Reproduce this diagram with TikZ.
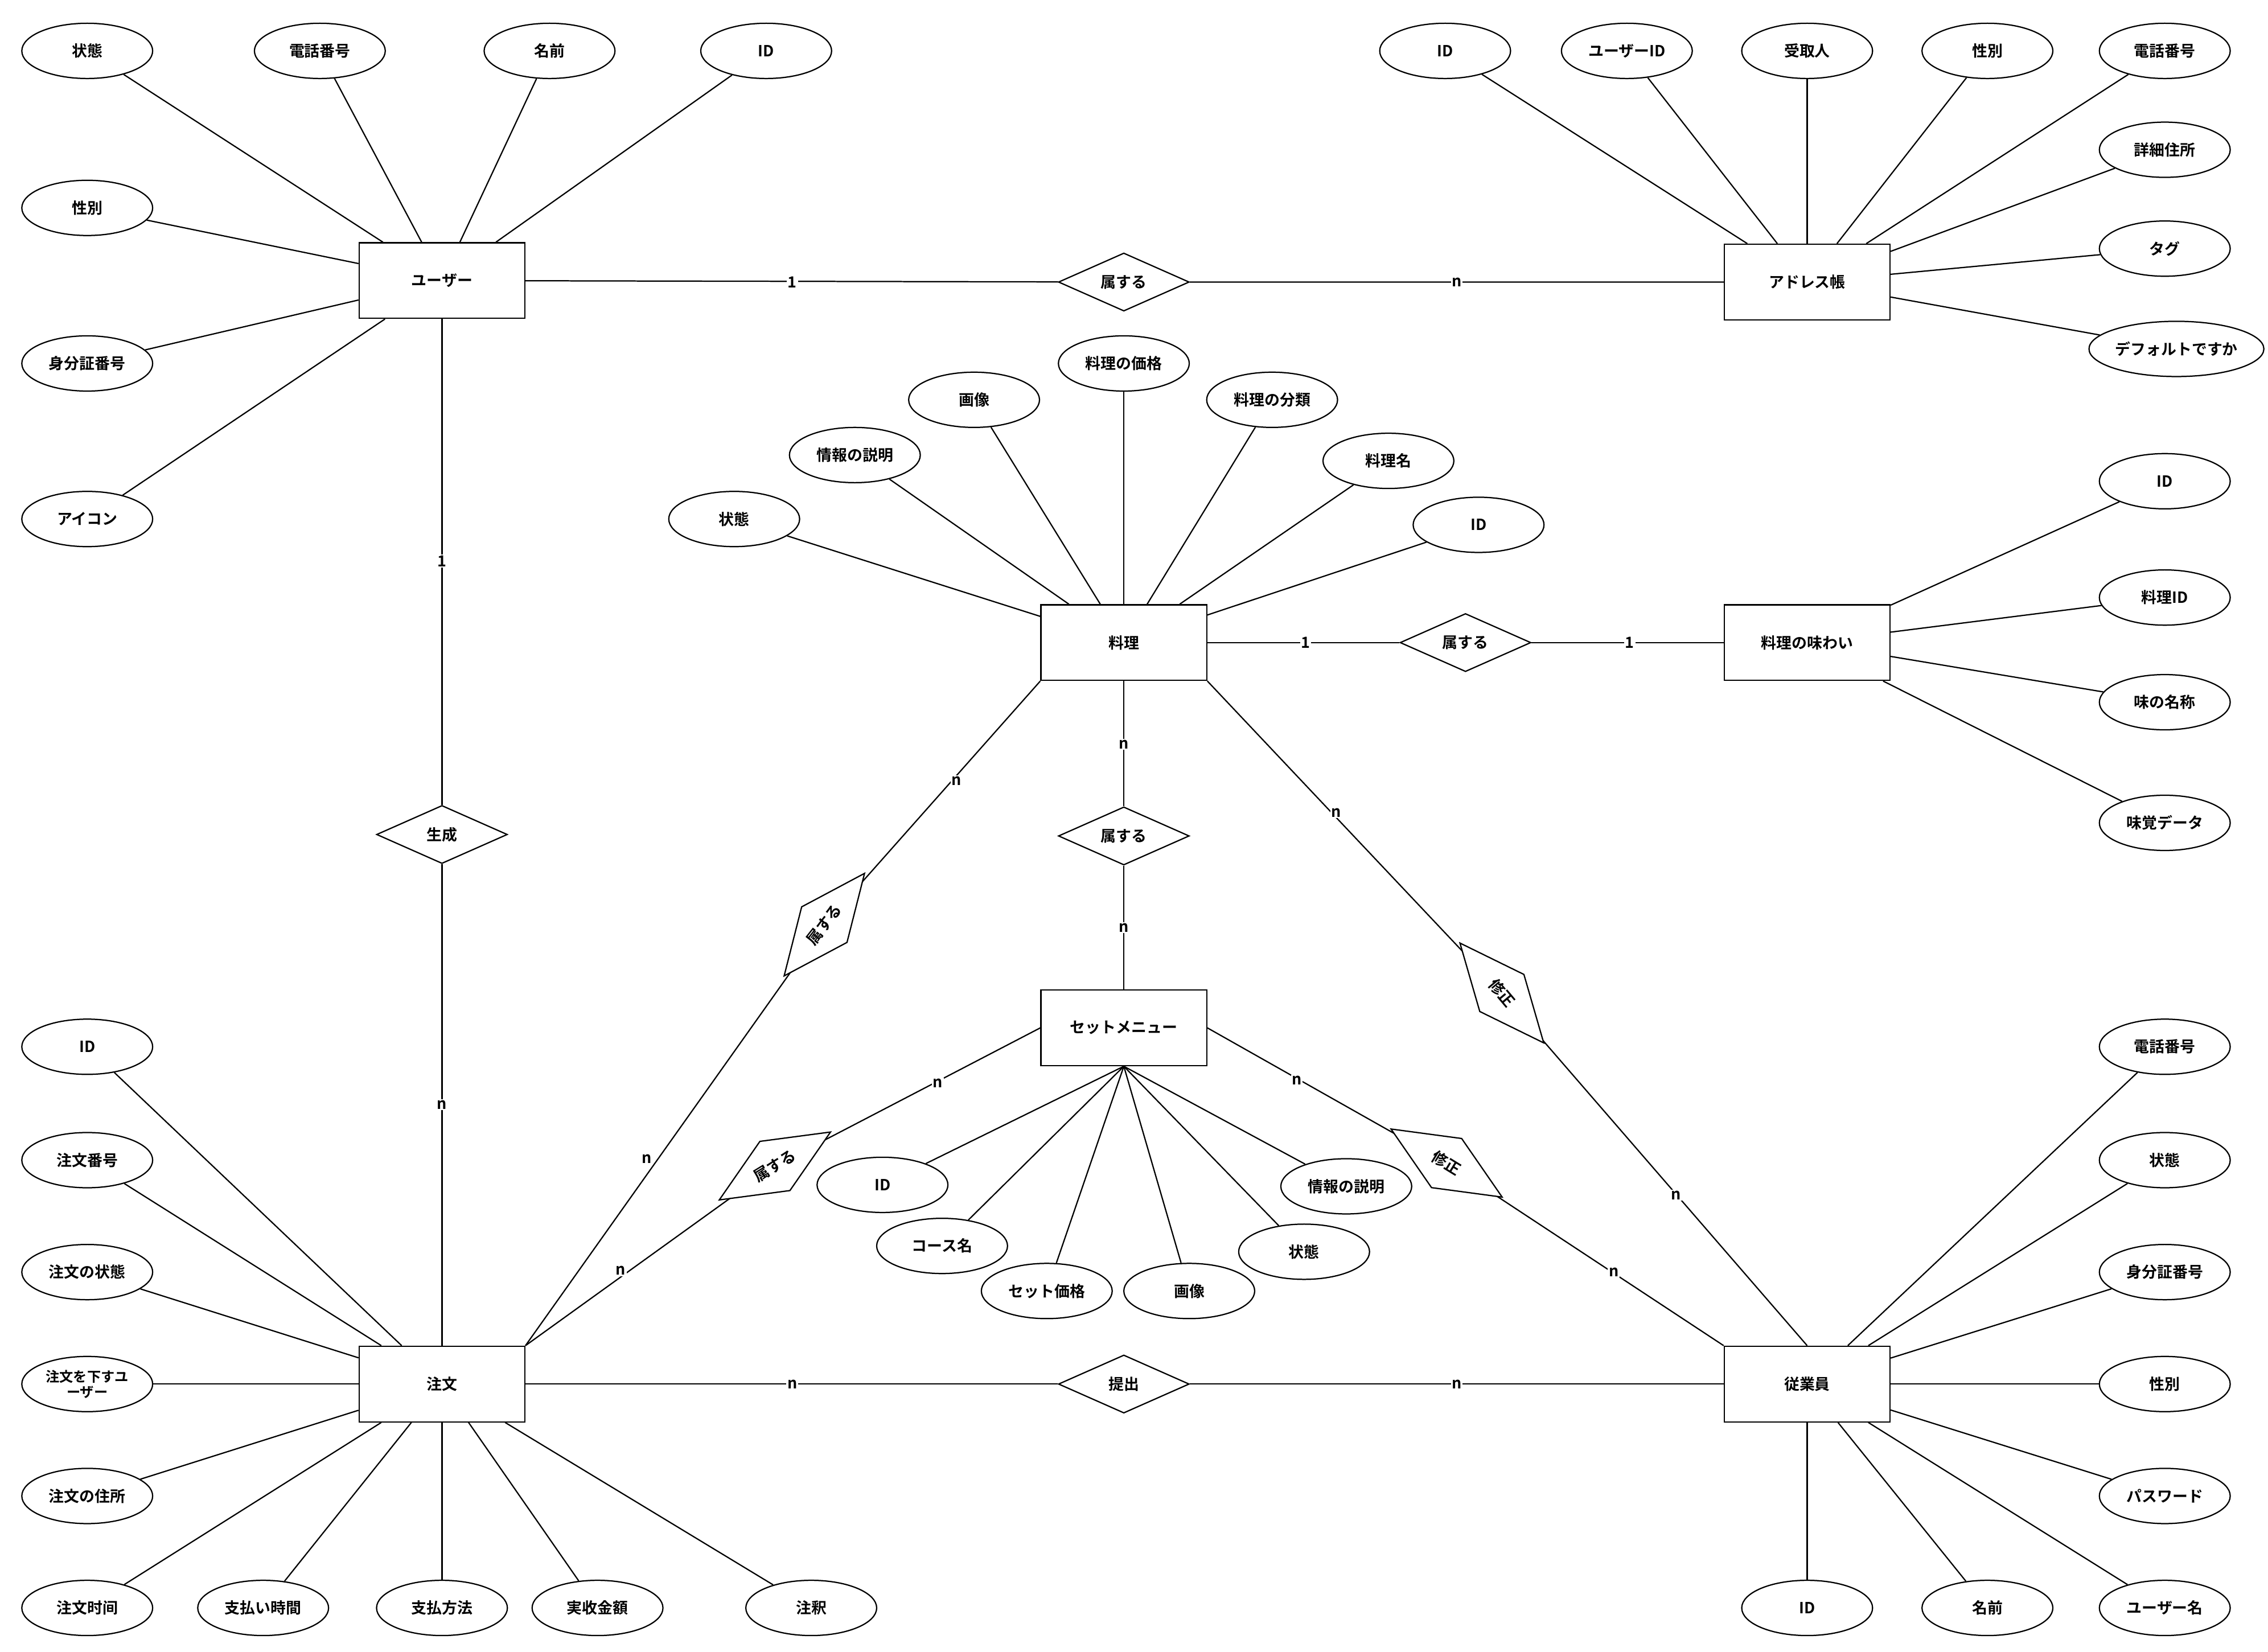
\documentclass[tikz,border=0pt]{standalone}
\usepackage{fontspec}
\setmainfont{Noto Sans CJK JP}[BoldFont={Noto Sans CJK JP Bold}]
\usetikzlibrary{shapes.geometric,backgrounds}
\begin{document}
\begin{tikzpicture}[x=0.1cm,y=-0.1cm,
 every node/.style={font=\fontsize{30}{36}\selectfont\bfseries},
 ent/.style={draw,line width=2.5pt,fill=white,minimum width=11.4cm,minimum height=5.2cm},
 att/.style={draw,ellipse,line width=2.5pt,fill=white,minimum width=9cm,minimum height=3.8cm,inner sep=1pt},
 rel/.style={draw,diamond,line width=2.5pt,fill=white,minimum width=9cm,minimum height=4cm,aspect=2.25,inner sep=1pt},
 lab/.style={fill=white,inner sep=2pt},
 ln/.style={line width=2.5pt}]
\begin{pgfonlayer}{background}
\fill[white] (0,0) rectangle (1560,1136);
\end{pgfonlayer}
\useasboundingbox (0,0) rectangle (1560,1136);
% entities
\node[ent] (user) at (304,193) {ユーザー};
\node[ent] (addr) at (1243,194) {アドレス帳};
\node[ent] (dish) at (773,442) {料理};
\node[ent] (taste) at (1243,442) {料理の味わい};
\node[ent] (set) at (773,707) {セットメニュー};
\node[ent] (order) at (304,952) {注文};
\node[ent] (emp) at (1243,952) {従業員};
% relations
\node[rel] (r1) at (773,194) {属する};
\node[rel] (r2) at (1008,442) {属する};
\node[rel] (r3) at (304,574) {生成};
\node[rel] (r4) at (773,575) {属する};
\node[rel] (r5) at (773,952) {提出};
\coordinate (p6) at (567,636);
\coordinate (p7) at (533,802);
\coordinate (p8) at (1033,683);
\coordinate (p9) at (995,800);
\begin{scope}[y=0.1cm]
\node[rel,rotate=51.9] (r6) at (p6) {属する};
\node[rel,rotate=31.4] (r7) at (p7) {属する};
\node[rel,rotate=-50] (r8) at (p8) {修正};
\node[rel,rotate=-31.5] (r9) at (p9) {修正};
\end{scope}
% user attrs
\foreach \n/\x/\y/\t in {u1/60/35/状態,u2/220/35/電話番号,u3/378/35/名前,u4/527/35/ID,u5/60/143/性別,u6/60/250/身分証番号,u7/60/357/アイコン}
 {\node[att] (\n) at (\x,\y) {\t}; \begin{pgfonlayer}{background}\draw[ln] (\n) -- (user);\end{pgfonlayer}}
\foreach \n/\x/\y/\t in {a1/994/35/ID,a2/1119/35/ユーザーID,a3/1243/35/受取人,a4/1367/35/性別,a5/1489/35/電話番号,a6/1489/103/詳細住所,a7/1489/171/タグ}
 {\node[att] (\n) at (\x,\y) {\t}; \begin{pgfonlayer}{background}\draw[ln] (\n) -- (addr);\end{pgfonlayer}}
\node[att,minimum width=10.6cm] (a8) at (1497,240) {デフォルトですか};
\foreach \n/\x/\y/\t in {d1/505/357/状態,d2/588/313/情報の説明,d3/670/275/画像,d4/773/250/料理の価格,d5/875/275/料理の分類,d6/955/317/料理名,d7/1017/361/ID}
 {\node[att] (\n) at (\x,\y) {\t}; \begin{pgfonlayer}{background}\draw[ln] (\n) -- (dish);\end{pgfonlayer}}
\foreach \n/\x/\y/\t in {t1/1489/331/ID,t2/1489/411/料理ID,t3/1489/483/味の名称,t4/1489/566/味覚データ}
 {\node[att] (\n) at (\x,\y) {\t}; \begin{pgfonlayer}{background}\draw[ln] (\n) -- (taste);\end{pgfonlayer}}
\foreach \n/\x/\y/\t in {s1/607/815/ID,s2/648/857/コース名,s3/720/888/セット価格,s4/818/888/画像,s5/897/861/状態,s6/926/816/情報の説明}
 {\node[att] (\n) at (\x,\y) {\t}; \begin{pgfonlayer}{background}\draw[ln] (\n) -- (set.south);\end{pgfonlayer}}
\foreach \n/\x/\y/\t in {o1/60/720/ID,o2/60/798/注文番号,o3/60/875/注文の状態,o5/60/1029/注文の住所,o6/60/1106/注文时间,o7/181/1106/支払い時間,o8/304/1106/支払方法,o9/411/1106/実收金額,o10/558/1106/注釈}
 {\node[att] (\n) at (\x,\y) {\t}; \begin{pgfonlayer}{background}\draw[ln] (\n) -- (order);\end{pgfonlayer}}
\node[att,align=center,font=\fontsize{27}{30}\selectfont\bfseries] (o4) at (60,952) {注文を下すユ\\ーザー};
\foreach \n/\x/\y/\t in {e1/1489/720/電話番号,e2/1489/798/状態,e3/1489/875/身分証番号,e4/1489/952/性別,e5/1489/1029/パスワード,e6/1489/1106/ユーザー名,e7/1243/1106/ID,e8/1367/1106/名前}
 {\node[att] (\n) at (\x,\y) {\t}; \begin{pgfonlayer}{background}\draw[ln] (\n) -- (emp);\end{pgfonlayer}}
\begin{pgfonlayer}{background}
\draw[ln] (a8) -- (addr); \draw[ln] (o4) -- (order);
\draw[ln] (user) -- (r1) -- (addr);
\draw[ln] (dish) -- (r2) -- (taste);
\draw[ln] (user) -- (r3) -- (order);
\draw[ln] (dish) -- (r4) -- (set);
\draw[ln] (order) -- (r5) -- (emp);
\draw[ln] (dish.south west) -- (r6.center) -- (order.north east);
\draw[ln] (set.west) -- (r7.center) -- (order.north east);
\draw[ln] (dish.south east) -- (r8.center) -- (emp.north);
\draw[ln] (set.east) -- (r9.center) -- (emp.north west);
\end{pgfonlayer}
% cardinalities
\foreach \x/\y/\t [count=\i] in {545/194/1,1002/194/n,898/442/1,1121/442/1,304/386/1,304/760/n,773/512/n,773/638/n,658/537/n,445/797/n,645/745/n,427/874/n,919/559/n,1153/822/n,892/743/n,1110/875/n,545/952/n,1002/952/n}
 \node[lab] (c\i) at (\x,\y) {\t};
\end{tikzpicture}
\end{document}
